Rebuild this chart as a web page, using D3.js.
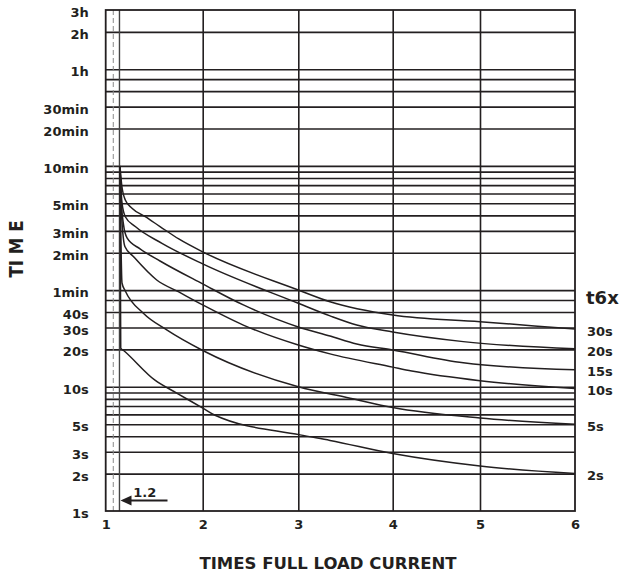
<!DOCTYPE html>
<html><head><meta charset="utf-8">
<script src="https://cdn.jsdelivr.net/npm/d3@7"></script>
<style>
body{margin:0;background:#fff}
svg text{font-family:"DejaVu Sans",sans-serif;font-weight:bold;fill:#231f20}
</style></head><body>
<svg id="c" width="623" height="579"></svg>
<script>
// ---- data ----
const xTicks = [1, 2, 3, 4, 5, 6];
const xGrid = [2, 3, 4, 5];
const yGrid = [2,3,4,5,6,7,8,9,10,20,30,40,50,60,120,180,240,300,360,420,480,540,600,1200,1800,2400,3000,3600,7200];
const yTickValues = [10800,7200,3600,1800,1200,600,300,180,120,60,40,30,20,10,5,3,2,1];
const yTickLabels = ["3h","2h","1h","30min","20min","10min","5min","3min","2min","1min","40s","30s","20s","10s","5s","3s","2s","1s"];
const markerLines = [1.078, 1.142];
const markerLabel = "1.2";
const seriesNames = ["30s","20s","15s","10s","5s","2s"];
const curve30s = [[1.147,600],[1.165,421],[1.202,319],[1.271,274],[1.408,234],[1.56,195],[1.753,155],[2.0,122],[3.0,60.2],[3.336,48.4],[4.0,37.8],[5.0,33.4],[6.0,29.2]];
const curve20s = [[1.147,600],[1.168,302],[1.202,234],[1.305,195],[1.58,143],[2.0,97.5],[3.0,47],[3.336,37.2],[3.619,31.4],[4.0,27.6],[4.809,23.1],[6.0,20.2]];
const curve15s = [[1.147,600],[1.163,291],[1.184,201],[1.22,158],[1.354,129],[1.56,103],[2.0,67.3],[2.425,45.6],[3.0,30.3],[3.336,25.6],[3.619,22.1],[4.0,19.8],[4.809,15.6],[6.0,13.7]];
const curve10s = [[1.147,600],[1.165,233],[1.199,134],[1.285,112],[1.526,72.4],[1.753,58],[2.0,45.6],[2.425,31.4],[3.0,21.7],[3.336,18.4],[4.0,14.4],[4.218,13.4],[5.0,11.2],[6.0,9.7]];
const curve5s = [[1.147,600],[1.168,68.5],[1.202,59],[1.388,39.1],[1.629,28.7],[2.006,19.5],[3.0,10.0],[3.548,8.1],[4.0,6.8],[5.0,5.6],[6.0,5.0]];
const curve2s = [[1.147,600],[1.155,20.5],[1.188,19.5],[1.508,11.3],[1.732,8.9],[2.006,6.7],[2.129,5.9],[3.018,4.1],[3.336,3.7],[4.0,2.9],[5.0,2.3],[6.0,2.0]];
const seriesData = [curve30s, curve20s, curve15s, curve10s, curve5s, curve2s];

// ---- layout ----
const L = 105.7, R = 575, T = 10, B = 511;
const ink = "#231f20";
const svg = d3.select("#c");
svg.append("rect").attr("width",623).attr("height",579).attr("fill","#fff");

const x = d3.scaleLinear().domain(xTicks).range([105.7, 202.7, 298.3, 392.7, 480, 575]);
const y = d3.scaleLog().domain([1, 10800]).range([B, T]);

// horizontal grid
svg.append("g").attr("transform", `translate(${L},0)`)
  .call(d3.axisLeft(y).tickValues(yGrid).tickSize(-(R - L)).tickFormat(""))
  .call(g => g.select(".domain").remove())
  .selectAll("line").attr("stroke", ink).attr("stroke-width", 1.6);

// vertical grid
svg.append("g").attr("transform", `translate(0,${B})`)
  .call(d3.axisBottom(x).tickValues(xGrid).tickSize(-(B - T)).tickFormat(""))
  .call(g => g.select(".domain").remove())
  .selectAll("line").attr("stroke", ink).attr("stroke-width", 1.6);

// marker lines near 1.2
svg.append("line").attr("x1", x(markerLines[0])).attr("x2", x(markerLines[0]))
  .attr("y1", T).attr("y2", B).attr("stroke", "#8a8a8a").attr("stroke-width", 1).attr("stroke-dasharray", "5,3");
svg.append("line").attr("x1", x(markerLines[1])).attr("x2", x(markerLines[1]))
  .attr("y1", T).attr("y2", B).attr("stroke", "#444").attr("stroke-width", 1.4);

// curves
const line = d3.line().x(d => x(d[0])).y(d => y(d[1])).curve(d3.curveMonotoneX);
svg.append("g").selectAll("path").data(seriesData).join("path")
  .attr("d", line).attr("fill", "none").attr("stroke", ink).attr("stroke-width", 1.5);

// border
svg.append("rect").attr("x", L).attr("y", T).attr("width", R - L).attr("height", B - T)
  .attr("fill", "none").attr("stroke", ink).attr("stroke-width", 1.8);

// y labels
const ya = svg.append("g").attr("transform", `translate(${L},0)`)
  .call(d3.axisLeft(y).tickValues(yTickValues).tickFormat((d, i) => yTickLabels[i]).tickSize(0).tickPadding(17));
ya.select(".domain").remove();
ya.attr("font-family", null).attr("font-size", null);
ya.selectAll("text").attr("dy", "0.5em").style("font-size", "13px");

// x labels
const xa = svg.append("g").attr("transform", `translate(0,${B})`)
  .call(d3.axisBottom(x).tickValues(xTicks).tickFormat(d3.format("d")).tickSize(0).tickPadding(9));
xa.select(".domain").remove();
xa.attr("font-family", null).attr("font-size", null);
xa.selectAll("text").style("font-size", "13px");

// right series labels
svg.append("g").selectAll("text").data(seriesData).join("text")
  .attr("x", R + 12).attr("y", d => y(d[d.length - 1][1]) + 2).attr("dy", "0.36em")
  .style("font-size", "13px").text((d, i) => seriesNames[i]);
svg.append("text").attr("x", R + 11).attr("y", 304).style("font-size", "18px").text("t6x");

// arrow with 1.2 label
const ax = x(markerLines[1]) + 1, ay = B - 10.5;
svg.append("line").attr("x1", ax + 6).attr("x2", 167.5).attr("y1", ay).attr("y2", ay)
  .attr("stroke", ink).attr("stroke-width", 2.2);
svg.append("path").attr("d", `M${ax},${ay} L${ax + 11},${ay - 5} L${ax + 11},${ay + 5} Z`).attr("fill", ink);
svg.append("text").attr("x", 133.3).attr("y", ay - 3.3).style("font-size", "13px").text(markerLabel);

// axis titles
svg.append("text").attr("x", 328).attr("y", 569).attr("text-anchor", "middle")
  .style("font-size", "16.5px").text("TIMES FULL LOAD CURRENT");
svg.append("text").attr("transform", "translate(23,249) rotate(-90)").attr("text-anchor", "middle")
  .attr("textLength", 57).attr("lengthAdjust", "spacingAndGlyphs")
  .style("font-size", "19px").text("TI M E");
</script></body></html>
